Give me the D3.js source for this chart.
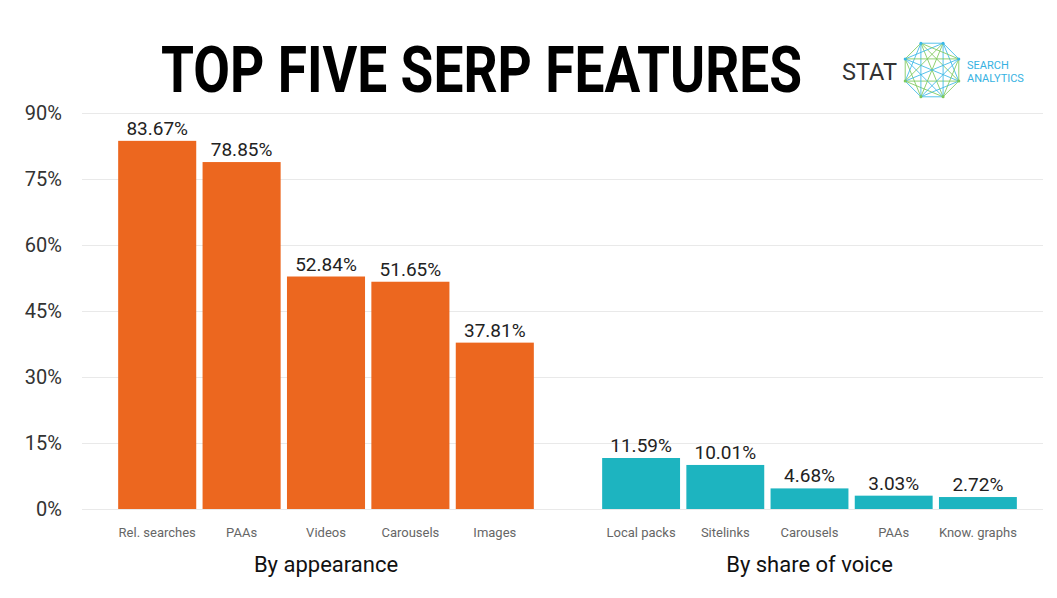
<!DOCTYPE html>
<html>
<head>
<meta charset="utf-8">
<script src="https://cdn.jsdelivr.net/npm/d3@7"></script>
<style>
  html, body { margin: 0; padding: 0; background: #fff; }
  svg { display: block; font-family: Roboto, "Noto Sans", sans-serif; }
</style>
</head>
<body>
<svg id="chart" width="1057" height="598"></svg>
<script>
// ---- Data ----
const appearanceCategories = ["Rel. searches", "PAAs", "Videos", "Carousels", "Images"];
const appearanceValues = [83.67, 78.85, 52.84, 51.65, 37.81];
const voiceCategories = ["Local packs", "Sitelinks", "Carousels", "PAAs", "Know. graphs"];
const voiceValues = [11.59, 10.01, 4.68, 3.03, 2.72];
const yTicks = [0, 15, 30, 45, 60, 75, 90];
const groupTitles = ["By appearance", "By share of voice"];
const chartTitle = "TOP FIVE SERP FEATURES";

// ---- Layout ----
const svg = d3.select("#chart");
const plotLeft = 82, plotRight = 1043;
const yTop = 113, yBottom = 509;

const y = d3.scaleLinear().domain([0, 90]).range([yBottom, yTop]);

// Title (condensed look: narrower font stretched vertically)
const titleEl = svg.append("text")
  .attr("transform", "translate(161,92) scale(1,1.3)")
  .style("font-family", "Roboto, sans-serif")
  .style("font-weight", 700)
  .style("font-size", "50px")
  .style("fill", "#000")
  .text(chartTitle);
// fit exact width
const natW = titleEl.node().getComputedTextLength();
titleEl.attr("transform", `translate(161,92) scale(${641 / natW},1.3)`);

// Y axis with gridlines
const yAxis = d3.axisLeft(y)
  .tickValues(yTicks)
  .tickSize(-(plotRight - plotLeft))
  .tickPadding(20)
  .tickFormat(d => d + "%");

const gy = svg.append("g")
  .attr("transform", `translate(${plotLeft},0)`)
  .call(yAxis);
gy.select(".domain").remove();
gy.selectAll(".tick line").attr("stroke", "#e9e9e9").attr("stroke-width", 1);
gy.selectAll(".tick text")
  .style("font-size", "20px")
  .style("font-family", "Roboto, sans-serif")
  .style("fill", "#333");

// Groups
const groups = [
  { cats: appearanceCategories, vals: appearanceValues, range: [115, 537], color: "#EC671F", title: groupTitles[0] },
  { cats: voiceCategories, vals: voiceValues, range: [599, 1020], color: "#1DB4C0", title: groupTitles[1] }
];

groups.forEach(g => {
  const x = d3.scaleBand()
    .domain(g.cats)
    .range(g.range)
    .paddingInner(0.075)
    .paddingOuter(0.0375);

  const data = g.cats.map((c, i) => ({ cat: c, val: g.vals[i] }));
  const grp = svg.append("g");

  grp.selectAll("rect")
    .data(data)
    .join("rect")
    .attr("x", d => x(d.cat))
    .attr("y", d => y(d.val))
    .attr("width", x.bandwidth())
    .attr("height", d => y(0) - y(d.val))
    .attr("fill", g.color);

  grp.selectAll("text.value")
    .data(data)
    .join("text")
    .attr("class", "value")
    .attr("x", d => x(d.cat) + x.bandwidth() / 2)
    .attr("y", d => y(d.val) - 6)
    .attr("text-anchor", "middle")
    .style("font-size", "19px")
    .style("fill", "#222")
    .text(d => d.val.toFixed(2) + "%");

  // category axis
  const xAxis = d3.axisBottom(x).tickSize(0).tickPadding(0);
  const gx = svg.append("g")
    .attr("transform", `translate(0,${y(0) + 19})`)
    .call(xAxis);
  gx.select(".domain").remove();
  gx.selectAll(".tick text")
    .style("font-size", "13px")
    .style("font-family", "Roboto, sans-serif")
    .style("fill", "#666");

  svg.append("text")
    .attr("x", (g.range[0] + g.range[1]) / 2)
    .attr("y", 572)
    .attr("text-anchor", "middle")
    .style("font-size", "22px")
    .style("fill", "#111")
    .text(g.title);
});

// ---- Logo ----
const logo = svg.append("g");
logo.append("text")
  .attr("x", 842).attr("y", 80)
  .attr("textLength", 55).attr("lengthAdjust", "spacingAndGlyphs")
  .style("font-size", "24px")
  .style("font-weight", 400)
  .style("fill", "#333")
  .text("STAT");

const cx = 932, cy = 70, r = 29;
const verts = d3.range(8).map(i => {
  const a = Math.PI / 8 + i * Math.PI / 4;
  return [cx + r * Math.cos(a), cy + r * Math.sin(a)];
});
const edges = [];
for (let i = 0; i < 8; i++) for (let j = i + 1; j < 8; j++) edges.push([i, j]);
logo.selectAll("line.edge")
  .data(edges)
  .join("line")
  .attr("x1", d => verts[d[0]][0]).attr("y1", d => verts[d[0]][1])
  .attr("x2", d => verts[d[1]][0]).attr("y2", d => verts[d[1]][1])
  .attr("stroke", (d, i) => i % 2 ? "#39b7e6" : "#7dc95b")
  .attr("stroke-width", 1)
  .attr("stroke-opacity", 0.85);
logo.selectAll("circle.node")
  .data(verts)
  .join("circle")
  .attr("cx", d => d[0]).attr("cy", d => d[1])
  .attr("r", 1.5)
  .attr("fill", (d, i) => i < 4 ? "#7dc95b" : "#39b7e6");

logo.append("text")
  .attr("x", 967).attr("y", 69)
  .style("font-size", "11px")
  .style("fill", "#36b2e2")
  .text("SEARCH");
logo.append("text")
  .attr("x", 967).attr("y", 82)
  .style("font-size", "11px")
  .style("fill", "#36b2e2")
  .text("ANALYTICS");
</script>
</body>
</html>
